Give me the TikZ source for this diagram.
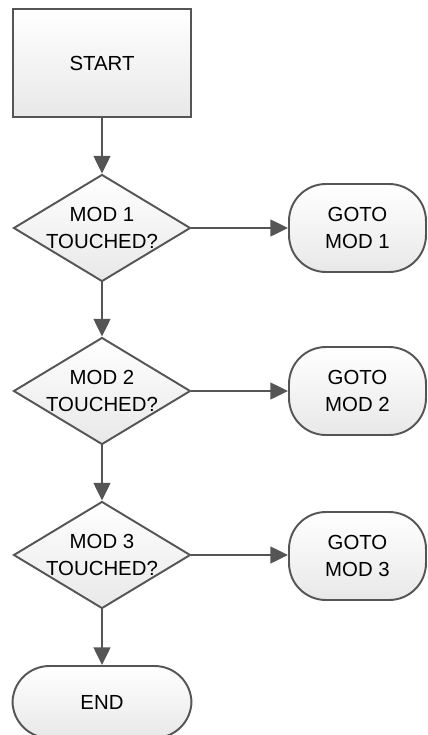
\documentclass[tikz,border=0pt]{standalone}
\usepackage{fontspec}
\setmainfont{Liberation Sans}
\usetikzlibrary{shapes.geometric,arrows.meta}
\definecolor{lineGray}{HTML}{555555}
\tikzset{
  box/.style={draw=lineGray, line width=1.1pt, top color=white, bottom color=black!9, align=center},
  procbox/.style={box, rectangle, minimum width=3.56cm, minimum height=2.16cm},
  decbox/.style={box, diamond, aspect=1.65, inner sep=-10pt, minimum width=3.54cm, minimum height=2.14cm},
  termbox/.style={box, rectangle, rounded corners=21pt},
  flow/.style={draw=lineGray, line width=1.1pt, -{Triangle[length=10pt,width=9.5pt]}}
}
\begin{document}
\begin{tikzpicture}[x=0.02cm, y=-0.02cm, every node/.style={font=\fontsize{11.6}{15}\selectfont}]
  \useasboundingbox (0,0) rectangle (427,735);
  % main column
  \node[procbox] (start) at (102,63) {START};
  \node[decbox] (dec1) at (102,228) {MOD 1\\TOUCHED?};
  \node[decbox] (dec2) at (102,391) {MOD 2\\TOUCHED?};
  \node[decbox] (dec3) at (102,555) {MOD 3\\TOUCHED?};
  \node[termbox, minimum width=3.58cm, minimum height=1.44cm] (stop) at (102,702) {END};
  % jump targets
  \node[termbox, minimum width=2.74cm, minimum height=1.76cm] (goto1) at (357.5,228) {GOTO\\MOD 1};
  \node[termbox, minimum width=2.74cm, minimum height=1.76cm] (goto2) at (357.5,391) {GOTO\\MOD 2};
  \node[termbox, minimum width=2.74cm, minimum height=1.76cm] (goto3) at (357.5,556) {GOTO\\MOD 3};
  % connectors
  \draw[flow] (start) -- (dec1);
  \draw[flow] (dec1) -- (dec2);
  \draw[flow] (dec2) -- (dec3);
  \draw[flow] (dec3) -- (stop);
  \draw[flow] (dec1) -- (goto1);
  \draw[flow] (dec2) -- (goto2);
  \draw[flow] (dec3.east) -- (goto3.west |- dec3.east);
\end{tikzpicture}
\end{document}
